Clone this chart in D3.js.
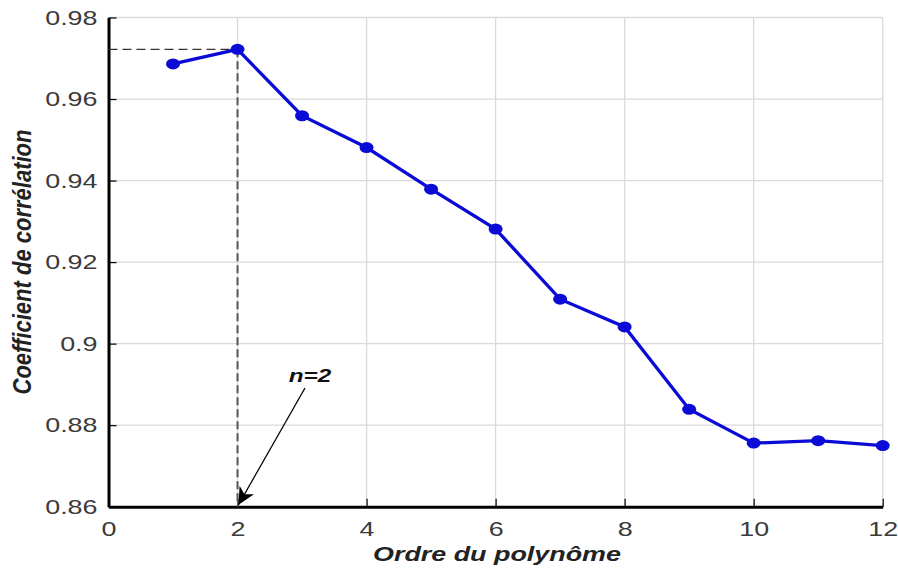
<!DOCTYPE html>
<html><head><meta charset="utf-8">
<script src="https://cdn.jsdelivr.net/npm/d3@7"></script>
<style>body{margin:0;background:#fff}</style>
</head><body>
<svg id="c" width="898" height="569"></svg>
<script>
const orders = [1,2,3,4,5,6,7,8,9,10,11,12];
const corr = [0.9686,0.9722,0.9559,0.9481,0.9379,0.9281,0.9109,0.9041,0.8839,0.8756,0.8762,0.8750];
const xTicks = [0,2,4,6,8,10,12];
const yTicks = [0.86,0.88,0.9,0.92,0.94,0.96,0.98];
const xLabel = "Ordre du polynôme";
const yLabel = "Coefficient de corrélation";
const annotText = "n=2";
const bestOrder = 2;

const FONT = "Liberation Sans, Arial, sans-serif";
const STRETCH = 1.28;
function widen(sel){
  sel.each(function(){
    const w = this.getComputedTextLength();
    d3.select(this).attr("textLength", w*STRETCH).attr("lengthAdjust","spacingAndGlyphs");
  });
}

const svg = d3.select("#c");
const L = 108.5, R = 882.7, T = 17.5, B = 506.7;
const x = d3.scaleLinear().domain([0,12]).range([L,R]);
const y = d3.scaleLinear().domain([0.86,0.98]).range([B,T]);

// grid
const g = svg.append("g");
g.selectAll(".vg").data(xTicks.slice(1)).enter().append("line")
  .attr("x1",d=>x(d)).attr("x2",d=>x(d)).attr("y1",T).attr("y2",B)
  .attr("stroke","#dadada").attr("stroke-width",1.3);
g.selectAll(".hg").data(yTicks.slice(1)).enter().append("line")
  .attr("x1",L).attr("x2",R).attr("y1",d=>y(d)).attr("y2",d=>y(d))
  .attr("stroke","#dadada").attr("stroke-width",1.3);

// axes
const xAxis = d3.axisBottom(x).tickValues(xTicks).tickSizeInner(-8).tickSizeOuter(0).tickPadding(14).tickFormat(d3.format("d"));
const yAxis = d3.axisLeft(y).tickValues(yTicks).tickSizeInner(-8).tickSizeOuter(0).tickPadding(11).tickFormat(d=>String(+d.toFixed(2)));
const gx = svg.append("g").attr("transform",`translate(0,${B})`).call(xAxis);
const gy = svg.append("g").attr("transform",`translate(${L},0)`).call(yAxis);
[gx,gy].forEach(a=>{
  a.select(".domain").attr("stroke","#000").attr("stroke-width",3);
  a.selectAll(".tick line").attr("stroke","#000").attr("stroke-width",1.2);
  a.selectAll(".tick text").attr("font-family",FONT).attr("font-size",21).attr("fill","#3a3a3a").call(widen);
});

// dashed reference lines
const bi = orders.indexOf(bestOrder);
svg.append("line").attr("x1",L).attr("x2",x(bestOrder)).attr("y1",y(corr[bi])).attr("y2",y(corr[bi]))
  .attr("stroke","#333").attr("stroke-width",1.3).attr("stroke-dasharray","9,5");
svg.append("line").attr("x1",x(bestOrder)).attr("x2",x(bestOrder)).attr("y1",y(corr[bi])).attr("y2",B)
  .attr("stroke","#555").attr("stroke-width",2).attr("stroke-dasharray","8,4");

// series
const line = d3.line().x((d,i)=>x(orders[i])).y(d=>y(d));
svg.append("path").datum(corr).attr("d",line).attr("fill","none").attr("stroke","#0b0bd6").attr("stroke-width",3.3);
svg.selectAll(".pt").data(corr).enter().append("ellipse")
  .attr("cx",(d,i)=>x(orders[i])).attr("cy",d=>y(d)).attr("rx",7).attr("ry",5.5).attr("fill","#0b0bd6");

// annotation arrow
svg.append("defs").append("marker").attr("id","ah").attr("viewBox","0 0 10 10").attr("refX",10).attr("refY",5)
  .attr("markerWidth",17).attr("markerHeight",17).attr("markerUnits","userSpaceOnUse").attr("orient","auto")
  .append("path").attr("d","M0,0 L10,5 L0,10 L3,5 Z").attr("fill","#000");
svg.append("line").attr("x1",305).attr("y1",388).attr("x2",x(bestOrder)+1).attr("y2",B-2)
  .attr("stroke","#000").attr("stroke-width",1.3).attr("marker-end","url(#ah)");
svg.append("text").attr("x",310).attr("y",382).attr("text-anchor","middle")
  .attr("font-family",FONT).attr("font-size",19).attr("font-weight","bold").attr("font-style","italic")
  .attr("fill","#111").text(annotText).call(widen);

// axis labels
svg.append("text").attr("x",497).attr("y",561).attr("text-anchor","middle")
  .attr("font-family",FONT).attr("font-size",21).attr("font-weight","bold").attr("font-style","italic")
  .attr("fill","#222").text(xLabel).call(widen);
svg.append("text").attr("transform","translate(31,262) rotate(-90) scale(1,1.28)").attr("text-anchor","middle")
  .attr("font-family",FONT).attr("font-size",20).attr("font-weight","bold").attr("font-style","italic")
  .attr("fill","#222").attr("textLength",265).attr("lengthAdjust","spacingAndGlyphs").text(yLabel);
</script>
</body></html>
